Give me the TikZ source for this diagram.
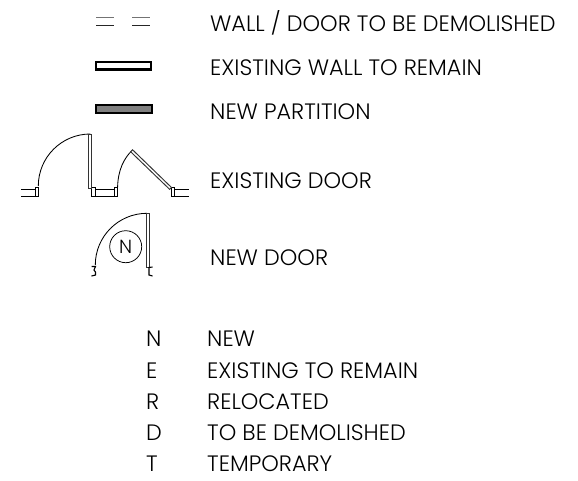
\documentclass[tikz,border=0pt]{standalone}
\usepackage{fontspec}
\setmainfont{Poppins}[UprightFont=* Light]
\tikzset{
  lbl/.style={anchor=base west,inner sep=0pt,font=\fontsize{22.3pt}{24pt}\selectfont,text=black},
  thin line/.style={line width=0.85pt,black},
  jamb/.style={line width=1pt,black,fill=white},
  leaf/.style={line width=0.95pt,black!80,fill=white}
}
\begin{document}
\begin{tikzpicture}[x=1pt,y=-1pt]
\useasboundingbox[fill=white] (0,0) rectangle (578,480);
% demolished
\draw[line width=1pt,black!55] (96,17.5)--(114,17.5) (132,17.5)--(150,17.5);
\draw[line width=1pt,black!85] (96,25.5)--(114,25.5) (132,25.5)--(150,25.5);
% existing wall
\draw[line width=2.4pt,black,fill=white] (96,62)rectangle(151,69.5);
% new partition
\draw[line width=2.2pt,black,fill=black!50] (96,105.3)rectangle(152,113);
% existing door
\draw[thin line] (21,189)--(36,189) (21,196)--(36,196);
\draw[thin line] (95,189)--(115,189) (95,196)--(115,196);
\draw[thin line] (174,189)--(189,189) (174,196)--(189,196);
\draw[jamb] (35.5,187.5) rectangle (38.5,196.5);
\draw[jamb] (91.5,187.5) rectangle (95,196.5);
\draw[jamb] (114.5,187.5) rectangle (117.5,196.5);
\draw[jamb] (171,187.5) rectangle (174,196.5);
\draw[thin line] (38.3,186) arc[start angle=180,end angle=270,radius=52];
\draw[leaf] (88.6,134) rectangle (91.4,188);
\draw[thin line] (117.6,187) .. controls (118,170) and (124,158) .. (132.5,150);
\draw[leaf] (132.6,149.8)--(171.5,187.5)--(169.6,189.3)--(130.7,151.8)--cycle;
% new door
\draw[thin line] (95.3,265) arc[start angle=180,end angle=270,radius=51.7];
\draw[leaf] (146,213) rectangle (149,267);
\draw[line width=0.75pt,black] (125.7,246.7) circle[radius=16];
\node[inner sep=0pt,font=\fontsize{19pt}{21pt}\selectfont] (n) at (125.7,247) {N};
\draw[line width=1.1pt,black] (91.5,266.5)--(95.5,266.5)--(94,270)--(95.5,272)--(95.5,275)--(91.5,276);
\draw[line width=1.1pt,black] (152.5,267)--(149,267.5)--(149,275)--(152.5,276);
% labels
\node[lbl] (a) at (210,31.7) {WALL / DOOR TO BE DEMOLISHED};
\node[lbl] (b) at (210,75.7) {EXISTING WALL TO REMAIN};
\node[lbl] (c) at (210,119.3) {NEW PARTITION};
\node[lbl] (d) at (210,188.3) {EXISTING DOOR};
\node[lbl] (e) at (210,265) {NEW DOOR};
\node[lbl] (k1) at (146,346.7) {N};
\node[lbl] (k2) at (146,378.5) {E};
\node[lbl] (k3) at (146,409) {R};
\node[lbl] (k4) at (146,440.5) {D};
\node[lbl] (k5) at (146,471.5) {T};
\node[lbl] (v1) at (207,346.7) {NEW};
\node[lbl] (v2) at (207,378.5) {EXISTING TO REMAIN};
\node[lbl] (v3) at (207,409) {RELOCATED};
\node[lbl] (v4) at (207,440.5) {TO BE DEMOLISHED};
\node[lbl] (v5) at (207,471.5) {TEMPORARY};
\end{tikzpicture}
\end{document}
